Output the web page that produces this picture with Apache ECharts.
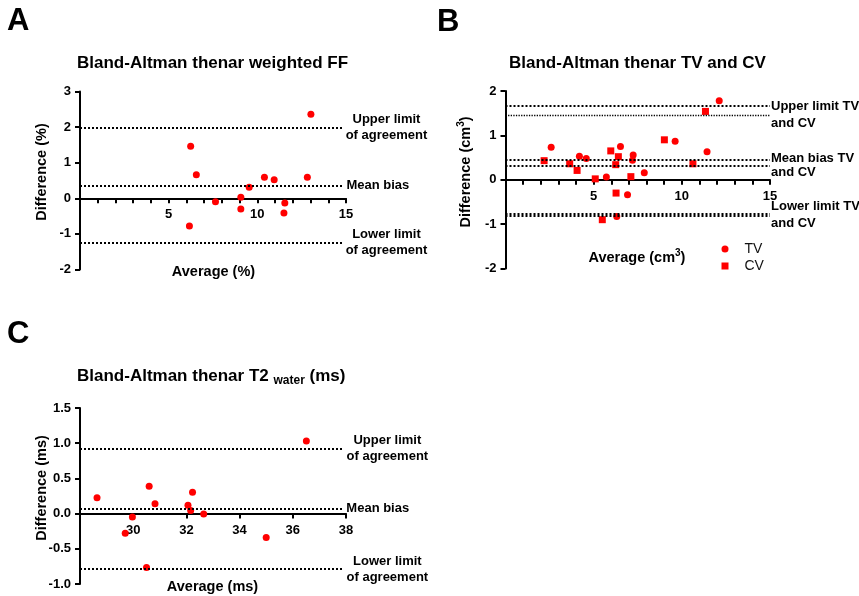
<!DOCTYPE html>
<html>
<head>
<meta charset="utf-8">
<style>
  html, body { margin: 0; padding: 0; background: #fff; }
  #chart { width: 859px; height: 596px; }
</style>
<script src="https://cdn.jsdelivr.net/npm/echarts@6/dist/echarts.min.js"></script>
</head>
<body>
<div id="chart"></div>
<script>
// panel A: weighted FF
const ffAvg = [6.24, 6.56, 7.64, 6.17, 13.02, 10.40, 10.95, 12.82, 9.54, 9.07, 9.07, 11.55, 11.50];
const ffDiff = [1.46, 0.66, -0.10, -0.78, 2.36, 0.59, 0.52, 0.59, 0.31, 0.03, -0.30, -0.13, -0.41];
const ffLimits = [1.99, 0.36, -1.25]; // upper, mean, lower

// panel B: TV and CV
const tvAvg = [2.59, 4.19, 4.58, 5.72, 6.31, 6.52, 6.92, 7.24, 7.20, 7.87, 9.62, 11.43, 12.12];
const tvDiff = [0.73, 0.53, 0.48, 0.06, -0.83, 0.75, -0.34, 0.56, 0.44, 0.16, 0.87, 0.63, 1.78];
const cvAvg = [2.19, 3.64, 4.06, 5.09, 5.49, 5.97, 6.25, 6.40, 6.27, 7.11, 9.01, 10.63, 11.34];
const cvDiff = [0.43, 0.36, 0.21, 0.02, -0.90, 0.65, 0.34, 0.52, -0.30, 0.07, 0.90, 0.36, 1.54];
const tvLimits = [1.67, 0.46, -0.77];
const cvLimits = [1.46, 0.32, -0.80];

// panel C: T2 water
const t2Avg = [28.64, 29.70, 29.97, 30.60, 30.82, 30.50, 32.06, 32.23, 32.16, 32.65, 36.51, 35.00];
const t2Diff = [0.225, -0.28, -0.05, 0.39, 0.14, -0.765, 0.12, 0.305, 0.045, -0.005, 1.03, -0.34];
const t2Limits = [0.925, 0.07, -0.79];

const seriesNames = ['TV', 'CV'];

const FONT = 'Liberation Sans, Arial, Helvetica, sans-serif';
const RED = '#ff0000';

const grids = [
    { left: 80, top: 91.5, width: 266, height: 178 },
    { left: 505.5, top: 91, width: 264.5, height: 177.5 },
    { left: 80, top: 408, width: 266, height: 176 }
];
const yRanges = [[-2, 3], [-2, 2], [-1, 1.5]];

const chart = echarts.init(document.getElementById('chart'));

function pairs(xs, ys) {
    return xs.map((x, i) => [x, ys[i]]);
}

// x axis drawn through y = 0: shift the bottom axis up by the height of the negative part
function xAxisFor(idx, min, max, interval, labelStep) {
    const yr = yRanges[idx];
    const lift = grids[idx].height * (0 - yr[0]) / (yr[1] - yr[0]);
    return {
        type: 'value', gridIndex: idx, min: min, max: max, interval: interval,
        position: 'bottom', offset: -lift,
        splitLine: { show: false },
        axisLine: { onZero: false, lineStyle: { color: '#000', width: 2 } },
        axisTick: { length: 5, lineStyle: { color: '#000', width: 2 } },
        axisLabel: {
            margin: 10, color: '#000', fontWeight: 'bold', fontSize: 13, fontFamily: FONT,
            formatter: v => (v === min || Math.abs(v % labelStep) > 1e-6) ? '' : String(v)
        }
    };
}

function yAxisFor(idx, interval, digits) {
    return {
        type: 'value', gridIndex: idx, min: yRanges[idx][0], max: yRanges[idx][1], interval: interval,
        splitLine: { show: false },
        axisLine: { show: true, onZero: false, lineStyle: { color: '#000', width: 2 } },
        axisTick: { show: true, length: 5, lineStyle: { color: '#000', width: 2 } },
        axisLabel: {
            margin: 9, color: '#000', fontWeight: 'bold', fontSize: 13, fontFamily: FONT,
            formatter: v => v.toFixed(digits)
        }
    };
}

const lineLabel = {
    show: true, position: 'end', color: '#000', fontWeight: 'bold',
    fontSize: 13, fontFamily: FONT, lineHeight: 16
};

function limitLine(y, x0, x1, width, label) {
    return [
        { coord: [x0, y], lineStyle: { type: 'dotted', width: width, color: '#000' },
          label: label ? Object.assign({}, lineLabel, label) : { show: false } },
        { coord: [x1, y] }
    ];
}

function markLines(data) {
    return { silent: true, symbol: ['none', 'none'], animation: false, data: data };
}

function text(x, y, str, size, extra, rotation) {
    return {
        type: 'text', x: x, y: y, silent: true, rotation: rotation || 0,
        style: Object.assign({
            text: str, fill: '#000', font: 'bold ' + size + 'px ' + FONT,
            align: 'left', verticalAlign: 'middle'
        }, extra || {})
    };
}

const supRich = {
    a: { fontSize: 14.5, fontWeight: 'bold', fontFamily: FONT, fill: '#000', lineHeight: 20 },
    s: { fontSize: 10, fontWeight: 'bold', fontFamily: FONT, fill: '#000', verticalAlign: 'top' }
};

const options = {
    animation: false,
    grid: grids,
    xAxis: [
        xAxisFor(0, 0, 15, 1, 5),
        xAxisFor(1, 0, 15, 1, 5),
        xAxisFor(2, 28, 38, 2, 2)
    ],
    yAxis: [
        yAxisFor(0, 1, 0),
        yAxisFor(1, 1, 0),
        yAxisFor(2, 0.5, 1)
    ],
    legend: {
        orient: 'vertical', left: 716.5, top: 237, itemWidth: 7, itemHeight: 7, itemGap: 3,
        textStyle: { fontSize: 14, color: '#111', fontFamily: FONT, padding: [0, 0, 0, 11] },
        data: [{ name: seriesNames[0], icon: 'circle' }, { name: seriesNames[1], icon: 'rect' }]
    },
    series: [
        {
            type: 'scatter', xAxisIndex: 0, yAxisIndex: 0, symbolSize: 7,
            itemStyle: { color: RED, opacity: 1 }, data: pairs(ffAvg, ffDiff),
            markLine: markLines([
                limitLine(ffLimits[0], 0, 14.8, 2, { formatter: 'Upper limit\nof agreement', align: 'center', distance: 44 }),
                limitLine(ffLimits[1], 0, 14.8, 2, { formatter: 'Mean bias', align: 'left', distance: 4 }),
                limitLine(ffLimits[2], 0, 14.8, 2, { formatter: 'Lower limit\nof agreement', align: 'center', distance: 44 })
            ])
        },
        {
            name: seriesNames[0], type: 'scatter', xAxisIndex: 1, yAxisIndex: 1, symbol: 'circle', symbolSize: 7,
            itemStyle: { color: RED, opacity: 1 }, data: pairs(tvAvg, tvDiff),
            markLine: markLines([
                limitLine(tvLimits[0], 0, 15, 2),
                limitLine(tvLimits[1], 0, 15, 2),
                limitLine(tvLimits[2], 0, 15, 2)
            ])
        },
        {
            name: seriesNames[1], type: 'scatter', xAxisIndex: 1, yAxisIndex: 1, symbol: 'rect', symbolSize: 7,
            itemStyle: { color: RED, opacity: 1 }, data: pairs(cvAvg, cvDiff),
            markLine: markLines([
                limitLine(cvLimits[0], 0, 15, 1.3, { formatter: 'Upper limit TV\nand CV', align: 'left', distance: 1, lineHeight: 17 }),
                limitLine(cvLimits[1], 0, 15, 2, { formatter: 'Mean bias TV\nand CV', align: 'left', distance: 1, lineHeight: 14 }),
                limitLine(cvLimits[2], 0, 15, 2, { formatter: 'Lower limit TV\nand CV', align: 'left', distance: 1, lineHeight: 17 })
            ])
        },
        {
            type: 'scatter', xAxisIndex: 2, yAxisIndex: 2, symbolSize: 7,
            itemStyle: { color: RED, opacity: 1 }, data: pairs(t2Avg, t2Diff),
            markLine: markLines([
                limitLine(t2Limits[0], 28, 37.9, 2, { formatter: 'Upper limit\nof agreement', align: 'center', distance: 44 }),
                limitLine(t2Limits[1], 28, 37.9, 2, { formatter: 'Mean bias', align: 'left', distance: 3 }),
                limitLine(t2Limits[2], 28, 37.9, 2, { formatter: 'Lower limit\nof agreement', align: 'center', distance: 44 })
            ])
        }
    ],
    graphic: [
        text(7, 21, 'A', 31),
        text(437, 22, 'B', 31),
        text(7, 334, 'C', 31),
        text(77, 63, 'Bland-Altman thenar weighted FF', 17),
        text(509, 63, 'Bland-Altman thenar TV and CV', 17),
        {
            type: 'text', x: 77, y: 376, silent: true,
            style: {
                text: '{t|Bland-Altman thenar T2 }{s|water}{t| (ms)}', align: 'left', verticalAlign: 'middle',
                rich: {
                    t: { fontSize: 17, fontWeight: 'bold', fontFamily: FONT, fill: '#000', lineHeight: 22 },
                    s: { fontSize: 12, fontWeight: 'bold', fontFamily: FONT, fill: '#000', verticalAlign: 'bottom' }
                }
            }
        },
        text(213.5, 272, 'Average (%)', 14.5, { align: 'center' }),
        text(637, 258, '{a|Average (cm}{s|3}{a|)}', 14.5, { align: 'center', rich: supRich }),
        text(212.5, 587, 'Average (ms)', 14.5, { align: 'center' }),
        text(42, 172, 'Difference (%)', 14.5, { align: 'center' }, Math.PI / 2),
        text(466, 172, '{a|Difference (cm}{s|3}{a|)}', 14.5, { align: 'center', rich: supRich }, Math.PI / 2),
        text(42, 488, 'Difference (ms)', 14.5, { align: 'center' }, Math.PI / 2)
    ]
};

chart.setOption(options);

new ResizeObserver(() => chart.resize()).observe(document.getElementById('chart'));
</script>
</body>
</html>
